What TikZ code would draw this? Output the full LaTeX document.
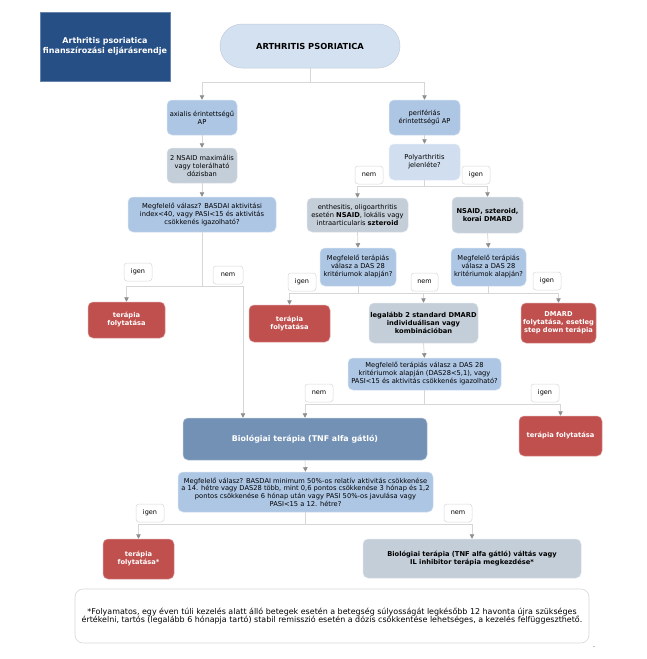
\documentclass[tikz,border=0pt]{standalone}
\usepackage{fontspec}
\setmainfont{DejaVu Sans}
\usetikzlibrary{arrows.meta}
\definecolor{titleblue}{HTML}{264F86}
\definecolor{startblue}{HTML}{D4E1F1}
\definecolor{midblue}{HTML}{ADC6E4}
\definecolor{lightblue}{HTML}{D0DEF0}
\definecolor{grayb}{HTML}{C4CED8}
\definecolor{redc}{HTML}{C0504E}
\definecolor{bioblue}{HTML}{7391B5}
\definecolor{linegray}{HTML}{D6D6D6}
\definecolor{tipgray}{HTML}{8E8E8E}
\definecolor{lblgray}{HTML}{D8D8D8}
\begin{document}
\begin{tikzpicture}[x=1pt,y=-1pt,
  sz/.style 2 args={minimum width=#1pt, minimum height=#2pt},
  bx/.style={rounded corners=5pt, inner sep=0pt, align=center, line width=0.5pt,
    font=\fontsize{6.7}{8}\selectfont},
  bluebox/.style={bx, fill=midblue, draw=midblue!55!white},
  lbluebox/.style={bx, fill=lightblue, draw=lightblue!55!white},
  graybox/.style={bx, fill=grayb, draw=grayb!55!white},
  redbox/.style={bx, fill=redc, draw=redc!55!white, text=white,
    font=\fontsize{6.7}{8}\selectfont\bfseries},
  lbl/.style={draw=lblgray, fill=white, rounded corners=3pt, inner sep=0pt,
    minimum width=28pt, minimum height=18pt, line width=0.5pt,
    font=\fontsize{6.5}{7.5}\selectfont},
  conn/.style={draw=linegray, line width=0.7pt},
  arr/.style={conn, -{Triangle[width=4.5pt,length=4.5pt,color=tipgray]}}
]
\fill[white] (0,0) rectangle (647,659);

% title
\node[fill=titleblue, draw=titleblue!70!white, line width=0.5pt, sz={130}{69}, inner sep=0pt,
  align=center, text=white, font=\fontsize{8}{9.5}\selectfont\bfseries]
  (title) at (105,46.5) {Arthritis psoriatica\\finanszírozási eljárásrendje};

% start
\node[fill=startblue, draw=startblue!80!gray, line width=0.5pt, rounded corners=22pt,
  sz={180}{44}, inner sep=0pt, font=\fontsize{8.3}{10}\selectfont\bfseries]
  (start) at (310,46) {ARTHRITIS PSORIATICA};

% left branch
\node[bluebox, sz={70}{35}] (axial) at (202,117.5) {axialis érintettségű\\AP};
\node[graybox, sz={70}{35}] (nsaid) at (202,165.5) {2 NSAID maximális\\vagy tolerálható\\dózisban};
\node[bluebox, sz={148}{35}] (basdai) at (202,214.5)
  {Megfelelő válasz? BASDAI aktivitási\\index<40, vagy PASI<15 és aktivitás\\csökkenés igazolható?};
\node[redbox, sz={77}{36}] (red1) at (126.5,320) {terápia\\folytatása};

% right branch
\node[bluebox, sz={71}{35}] (perif) at (424.5,117.5) {perifériás\\érintettségű AP};
\node[lbluebox, sz={71}{36}] (poly) at (424.5,162) {Polyarthritis\\jelenléte?};
\node[graybox, sz={101}{34}] (enth) at (357.5,215)
  {enthesitis, oligoarthritis\\esetén \textbf{NSAID}, lokális vagy\\intraarticularis \textbf{szteroid}};
\node[graybox, sz={71}{36}, font=\fontsize{6.7}{8}\selectfont\bfseries] (nsz) at (487.5,215)
  {NSAID, szteroid,\\korai DMARD};
\node[bluebox, sz={76}{38}] (das1) at (358,267) {Megfelelő terápiás\\válasz a DAS 28\\kritériumok alapján?};
\node[bluebox, sz={75}{38}] (das2) at (488.5,267) {Megfelelő terápiás\\válasz a DAS 28\\kritériumok alapján?};
\node[redbox, sz={81}{37}] (red2) at (289.5,323.5) {terápia\\folytatása};
\node[graybox, sz={109}{40}, font=\fontsize{6.7}{8}\selectfont\bfseries] (leg) at (423.5,323)
  {legalább 2 standard DMARD\\individuálisan vagy\\kombinációban};
\node[redbox, sz={75}{40}] (red3) at (558.5,323) {DMARD\\folytatása, esetleg\\step down terápia};
\node[bluebox, sz={153}{32}] (das3) at (424.5,374)
  {Megfelelő terápiás válasz a DAS 28\\kritériumok alapján (DAS28<5,1), vagy\\PASI<15 és aktivitás csökkenés igazolható?};
\node[redbox, sz={83}{40}] (red4) at (560.5,436) {terápia folytatása};

% biological
\node[bx, fill=bioblue, draw=bioblue!55!white, sz={244}{42}, text=white,
  font=\fontsize{7.9}{9.5}\selectfont\bfseries] (bio) at (305,439) {Biológiai terápia (TNF alfa gátló)};
\node[bluebox, sz={255}{40}, font=\fontsize{6.7}{7.7}\selectfont] (resp) at (305.5,492)
  {Megfelelő válasz? BASDAI minimum 50\%-os relatív aktivitás csökkenése\\a 14. hétre vagy DAS28 több, mint 0,6 pontos csökkenése 3 hónap és 1,2\\pontos csökkenése 6 hónap után vagy PASI 50\%-os javulása vagy\\PASI<15 a 12. hétre?};
\node[redbox, sz={71}{40}] (red5) at (138.5,559) {terápia\\folytatása*};
\node[graybox, sz={218}{39}, font=\fontsize{6.7}{8}\selectfont\bfseries] (final) at (472,558.5)
  {Biológiai terápia (TNF alfa gátló) váltás vagy\\IL inhibitor terápia megkezdése*};

% footnote
\node[draw=lblgray, fill=white, rounded corners=8pt, line width=0.6pt, sz={514}{54}, inner sep=0pt,
  align=center, font=\fontsize{7.95}{8.6}\selectfont] (foot) at (332,616)
  {*Folyamatos, egy éven túli kezelés alatt álló betegek esetén a betegség súlyosságát legkésőbb 12 havonta újra szükséges\\értékelni, tartós (legalább 6 hónapja tartó) stabil remisszió esetén a dózis csökkentése lehetséges, a kezelés felfüggeszthető.};
\node[inner sep=0pt, text=black!70, font=\fontsize{4}{4}\selectfont] (qm) at (594,648) {"};

% connectors
\draw[conn] (start.south) -- ++(0,14) coordinate (j0);
\draw[arr] (j0) -| (axial.north);
\draw[arr] (j0) -| (perif.north);
\draw[arr] (axial.south) -- (nsaid.north);
\draw[arr] (nsaid.south) -- (basdai.north);
\draw[conn] (basdai.south) -- ++(0,54) coordinate (j1);
\draw[arr] (j1) -| (red1.north);
\draw[conn] (j1) -- ++(41,0) coordinate (j1r);
\draw[arr] (j1r) -- (j1r |- bio.north);

\draw[arr] (perif.south) -- (poly.north);
\draw[conn] (poly.south) -- ++(0,6) coordinate (j2);
\draw[arr] (j2) -| (enth.north);
\draw[arr] (j2) -| (nsz.north);
\draw[arr] (enth.south) -- (das1.north);
\draw[arr] (nsz.south) -- (das2.north);
\draw[conn] (das1.south) -- ++(0,7) coordinate (j3);
\draw[conn] (das2.south) -- ++(0,7) coordinate (j4);
\draw[arr] (j3) -| (red2.north);
\draw[conn] (j3) -- (j4);
\draw[arr] (j4) -| (red3.north);
\draw[arr] (leg.north |- j3) -- (leg.north);
\draw[arr] (leg.south) -- (das3.north);
\draw[conn] (das3.south) -- ++(0,14) coordinate (j5);
\draw[arr] (j5) -| (red4.north);
\draw[arr] (j5) -| (bio.north);
\draw[arr] (bio.south) -- (resp.north);
\draw[conn] (resp.south) -- ++(0,12) coordinate (j6);
\draw[arr] (j6) -| (red5.north);
\draw[arr] (j6) -| (final.north);

% labels
\node[lbl] (l1) at (138,272) {igen};
\node[lbl, minimum width=30pt] (l2) at (228,275) {nem};
\node[lbl] (l3) at (369,175) {nem};
\node[lbl] (l4) at (476,175) {igen};
\node[lbl] (l5) at (302,282) {igen};
\node[lbl, minimum width=27pt] (l6) at (424.5,282) {nem};
\node[lbl] (l7) at (547,281) {igen};
\node[lbl] (l8) at (319,393) {nem};
\node[lbl] (l9) at (545,393) {igen};
\node[lbl] (l10) at (150,513) {igen};
\node[lbl] (l11) at (458,513) {nem};
\end{tikzpicture}
\end{document}
